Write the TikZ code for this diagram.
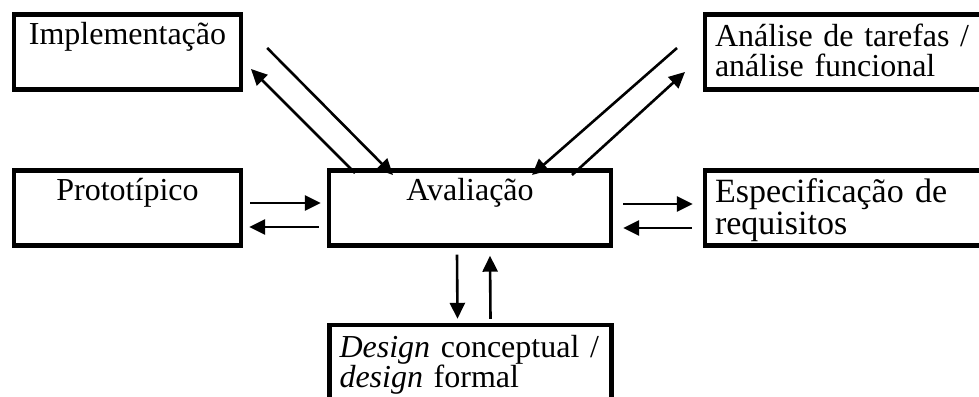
\documentclass[tikz,border=0pt]{standalone}
\usepackage{fontspec}
\setmainfont{Liberation Serif}
\usetikzlibrary{arrows.meta}
\setlength{\lineskiplimit}{-20pt}
\tikzset{
    box/.style={draw,line width=2.2pt,minimum height=37.5pt,inner xsep=5pt,inner ysep=0pt,
        text height=12pt,text depth=19.5pt,
        font=\fontsize{16}{15}\selectfont},
    smallbox/.style={box,minimum width=113.5pt,align=center},
    bigbox/.style={box,minimum width=141pt,align=center},
    textbox/.style={box,minimum width=141pt,text width=131pt,align=left,
        text height=13pt,text depth=18.5pt},
    arr/.style={-{Triangle[length=8pt,width=7.5pt]},line width=1.3pt},
}

\begin{document}
\begin{tikzpicture}[x=0.5pt,y=-0.5pt]
    \useasboundingbox (0,0) rectangle (979,396);
    % boxes
    \node[smallbox] (impl) at (127.5,52) {Implementação};
    \node[textbox] (anal) at (846,52) {Análise de tarefas /\\análise funcional};
    \node[smallbox] (proto) at (127.5,208) {Prototípico};
    \node[bigbox] (aval) at (470,208) {Avaliação};
    \node[textbox,font=\fontsize{17}{14.5}\selectfont] (espec) at (846,208) {Especificação de\\requisitos};
    \node[textbox] (design) at (470.5,362.5) {\textit{Design} conceptual /\\\textit{design} formal};
    % diagonal arrows
    \draw[arr] ([shift={(24,-4)}]impl.east) -- ([shift={(-77,6.7)}]aval.north);
    \draw[arr] ([shift={(-115,4.7)}]aval.north) -- ([shift={(7.8,17)}]impl.east);
    \draw[arr] ([shift={(-25.8,-4)}]anal.west) -- ([shift={(62,6.7)}]aval.north);
    \draw[arr] ([shift={(102,6.7)}]aval.north) -- ([shift={(-17.8,20)}]anal.west);
    % horizontal arrows
    \draw[arr] ([shift={(7,-5)}]proto.east) -- ([shift={(-6,-5)}]aval.west);
    \draw[arr] ([shift={(-8,19)}]aval.west) -- ([shift={(6,19)}]proto.east);
    \draw[arr] ([shift={(10,-4)}]aval.east) -- ([shift={(-10,-4)}]espec.west);
    \draw[arr] ([shift={(-11,20)}]espec.west) -- ([shift={(10,20)}]aval.east);
    % vertical arrows
    \draw[arr] ([shift={(-13,7)}]aval.south) -- ([shift={(-13,-4)}]design.north);
    \draw[arr] ([shift={(20,-4)}]design.north) -- ([shift={(20,8)}]aval.south);
\end{tikzpicture}
\end{document}
